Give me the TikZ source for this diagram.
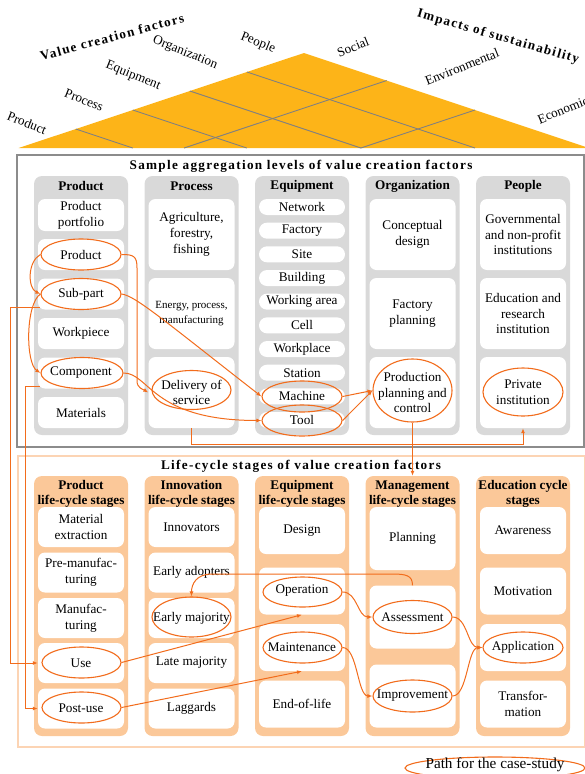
\documentclass[tikz,border=0pt]{standalone}
\usepackage{fontspec}
\setmainfont{Liberation Serif}
\usetikzlibrary{shapes.geometric,arrows.meta,calc}

\definecolor{roofyellow}{RGB}{253,180,24}
\definecolor{roofgray}{RGB}{128,128,128}
\definecolor{framegray}{RGB}{140,140,140}
\definecolor{colgray}{RGB}{217,217,217}
\definecolor{framepeach}{RGB}{252,212,180}
\definecolor{colpeach}{RGB}{251,200,153}
\definecolor{pathorange}{RGB}{242,108,28}

\newcommand{\spaced}[1]{{\addfontfeatures{LetterSpace=10}#1}}

\tikzset{
  txt/.style={font=\fontsize{13.2}{15.7}\selectfont, align=center, inner sep=0pt},
  head/.style={txt, font=\fontsize{13.2}{15.7}\selectfont\bfseries},
  small/.style={txt, font=\fontsize{11}{15.7}\selectfont},
  gcol/.style={fill=colgray, rounded corners=8pt, minimum width=94, minimum height=259, inner sep=0pt},
  ocol/.style={gcol, fill=colpeach, minimum height=260},
  wbox/.style={txt, fill=white, rounded corners=7pt, minimum width=86},
  pill/.style={wbox, rounded corners=8pt, minimum height=16},
  pathell/.style={ellipse, draw=pathorange, line width=1.1pt, minimum width=80, minimum height=31, inner sep=0pt},
  patharr/.style={draw=pathorange, line width=1pt, -{Latex[length=5pt,width=4pt]}},
  roofgrid/.style={draw=roofgray, line width=0.9pt}
}

\begin{document}
\begin{tikzpicture}[x=1pt,y=-1pt]
\useasboundingbox (0,0) rectangle (585,774);

% roof
\coordinate (rl) at (18.7,148);
\coordinate (ra) at (304,53);
\coordinate (rr) at (589,148);
\fill[roofyellow] (rl) -- (ra) -- (rr) -- cycle;
\foreach \t in {0.2,0.4,0.6,0.8}
  \draw[roofgrid] ($(rl)!\t!(ra)$) -- ($(rl)!\t!(rr)$);
\foreach \s in {0.4,0.71}
  \draw[roofgrid] ($(rr)!\s!(ra)$) -- ($(rr)!\s!(rl)$);

\node[head, rotate=15] (tvcf) at (112,37) {\spaced{Value creation factors}};
\node[head, rotate=-16] (tios) at (498,37) {\spaced{Impacts of sustainability}};
\node[txt, rotate=-22] (lprod) at (27,123) {Product};
\node[txt, rotate=-22] (lproc) at (84,100) {Process};
\node[txt, rotate=-22] (lequip) at (133,76) {Equipment};
\node[txt, rotate=-22] (lorg) at (185,53) {Organization};
\node[txt, rotate=-22] (lpeop) at (258,43) {People};
\node[txt, rotate=22] (lsoc) at (353,47) {Social};
\node[txt, rotate=22] (lenv) at (462,67) {Environmental};
\node[txt, rotate=22] (lecon) at (563,110) {Economic};

% aggregation levels
\draw[framegray, line width=1.2pt] (17,155) rectangle (584,447);
\node[head] (ttop) at (301,166) {\spaced{Sample aggregation levels of value creation factors}};

\foreach \cx/\nm in {81/cprod,191.5/cproc,302/cequip,412.5/corg,523/cpeop}
  \node[gcol] (\nm) at (\cx,305.5) {};
\node[head] (hprod) at (81,186) {Product};
\node[head] (hproc) at (191.5,186) {Process};
\node[head] (hequip) at (302,186) {Equipment};
\node[head] (horg) at (412.5,186) {Organization};
\node[head] (hpeop) at (523,186) {People};

\node[wbox, minimum height=32] (bport) at (81,215) {Product\\portfolio};
\node[wbox, minimum height=31] (bprod) at (81,254.5) {Product};
\node[wbox, minimum height=31] (bsub) at (81,294) {Sub-part};
\node[wbox, minimum height=31] (bwork) at (81,333.5) {Workpiece};
\node[wbox, minimum height=31] (bcomp) at (81,373) {Component};
\node[wbox, minimum height=31] (bmat) at (81,412.5) {Materials};

\node[wbox, minimum height=71] (bagri) at (191.5,234.5) {Agriculture,\\forestry,\\fishing};
\node[wbox, small, minimum height=71] (benergy) at (191.5,313.5) {Energy, process,\\manufacturing};
\node[wbox, minimum height=71] (bdel) at (191.5,392.5) {Delivery of\\service};

\foreach \lab [count=\i from 0] in {Network,Factory,Site,Building,Working area,Cell,Workplace,Station,Machine,Tool}
  \node[pill] (beq\i) at (302,{207+23.67*\i}) {\lab};

\node[wbox, minimum height=71] (bconc) at (412.5,234.5) {Conceptual\\design};
\node[wbox, minimum height=71] (bfplan) at (412.5,313.5) {Factory\\planning};
\node[wbox, minimum height=71] (bppc) at (412.5,392.5) {Production\\planning and\\control};

\node[wbox, minimum height=71] (bgov) at (523,234.5) {Governmental\\and non-profit\\institutions};
\node[wbox, minimum height=71] (bedu) at (523,313.5) {Education and\\research\\institution};
\node[wbox, minimum height=71] (bpriv) at (523,392.5) {Private\\institution};

\node[pathell] (eprod) at (81,254.5) {};
\node[pathell] (esub) at (81,294) {};
\node[pathell, minimum width=82] (ecomp) at (82,373) {};
\node[pathell, minimum width=79, minimum height=39] (edel) at (191.5,390) {};
\node[pathell] (emach) at (302,396.5) {};
\node[pathell] (etool) at (302,420.5) {};
\node[pathell, minimum width=79, minimum height=63] (eppc) at (412.5,390.5) {};
\node[pathell, minimum height=48] (epriv) at (523,392) {};

% life-cycle stages
\draw[framepeach, line width=1.2pt] (18,456) rectangle (585,747);
\node[head] (tbot) at (301,466) {\spaced{Life-cycle stages of value creation factors}};

\foreach \cx/\nm in {81/clprod,191.5/clinno,302/clequip,412.5/clmgmt,523/cledu}
  \node[ocol] (\nm) at (\cx,606) {};
\node[head] (hlprod) at (81,494) {Product\\life-cycle stages};
\node[head] (hlinno) at (191.5,494) {Innovation\\life-cycle stages};
\node[head] (hlequip) at (302,494) {Equipment\\life-cycle stages};
\node[head] (hlmgmt) at (412.5,494) {Management\\life-cycle stages};
\node[head] (hledu) at (523,494) {Education cycle\\stages};

\node[wbox, minimum height=40] (bmatx) at (81,527) {Material\\extraction};
\node[wbox, minimum height=40] (bpre) at (81,572.5) {Pre-manufac-\\turing};
\node[wbox, minimum height=40] (bmanu) at (81,618) {Manufac-\\turing};
\node[wbox, minimum height=40] (buse) at (81,663) {Use};
\node[wbox, minimum height=40] (bpost) at (81,708.5) {Post-use};

\node[wbox, minimum height=40] (binno) at (191.5,527) {Innovators};
\node[wbox, minimum height=40] (badop) at (191.5,572.5) {Early adopters};
\node[wbox, minimum height=40] (bemaj) at (191.5,618) {Early majority};
\node[wbox, minimum height=40] (blmaj) at (191.5,663) {Late majority};
\node[wbox, minimum height=40] (blag) at (191.5,708.5) {Laggards};

\node[wbox, minimum height=47] (bdes) at (302,530.5) {Design};
\node[wbox, minimum height=47] (bop) at (302,591) {Operation};
\node[wbox, minimum height=47] (bmaint) at (302,647.5) {Maintenance};
\node[wbox, minimum height=47] (beol) at (302,704) {End-of-life};

\node[wbox, minimum height=63] (bplan) at (412.5,538.5) {Planning};
\node[wbox, minimum height=63] (bass) at (412.5,617) {Assessment};
\node[wbox, minimum height=63] (bimp) at (412.5,696) {Improvement};

\node[wbox, minimum height=47] (baware) at (523,530.5) {Awareness};
\node[wbox, minimum height=47] (bmotiv) at (523,591) {Motivation};
\node[wbox, minimum height=47] (bappl) at (523,647.5) {Application};
\node[wbox, minimum height=47] (btrans) at (523,704) {Transfor-\\mation};

\node[pathell, minimum width=79] (euse) at (81.5,662.5) {};
\node[pathell, minimum width=79] (epost) at (81.5,707.5) {};
\node[pathell, minimum width=79, minimum height=40] (eemaj) at (191.5,617) {};
\node[pathell, minimum width=79, minimum height=30] (eop) at (302.5,592) {};
\node[pathell, minimum width=79] (emaint) at (302.5,647.5) {};
\node[pathell, minimum width=79, minimum height=33] (eass) at (412.5,617) {};
\node[pathell, minimum width=79, minimum height=32] (eimp) at (412.5,696) {};
\node[pathell] (eappl) at (523,647.5) {};

% case-study path
\draw[patharr] (eprod.west) .. controls +(-13,7) and +(-13,-6) .. (esub.west);
\draw[patharr] (esub.west) .. controls +(-15,10) and +(-15,-10) .. (ecomp.west);
\draw[patharr] (eprod.east) .. controls +(12,0) and +(0,-12) .. (137,268) -- (137,381)
  .. controls +(0,7) and +(-5,-3) .. (bdel.west);
\draw[patharr] (ecomp.east) .. controls +(26,0) and +(-110,0) .. (etool.west);
\draw[patharr] (esub.east) .. controls +(14,2) and +(-100,-78) .. (emach.west);
\draw[patharr] (emach.east) -- (eppc.west);
\draw[patharr] (etool.east) -- (eppc.west);
\draw[patharr] (bdel.south) -- ++(0,16) -| (bpriv.south);
\draw[patharr] (eppc.south) -- (clmgmt.north);
\draw[patharr] ($(bsub.south west)+(2,-2)$) -- ++(-29,0) |- (buse.west);
\draw[patharr] ($(bcomp.south west)+(2,-2)$) -- ++(-14,0) |- (bpost.west);

\draw[patharr] (euse.east) -- (bop.south);
\draw[patharr] (epost.east) -- (bmaint.south);
\draw[patharr] (eop.east) .. controls +(15,0) and +(-15,0) .. (eass.west);
\draw[patharr] (emaint.east) .. controls +(15,0) and +(-15,0) .. (eimp.west);
\draw[patharr] (eass.east) .. controls +(15,0) and +(-15,0) .. (eappl.west);
\draw[patharr] (eimp.east) .. controls +(15,0) and +(-15,0) .. (eappl.west);
\draw[patharr] (bass.north) .. controls +(0,-10) and +(14,0) .. (392,574) -- (212,574)
  .. controls +(-16,0) and +(0,-12) .. (eemaj.north);

% legend
\node[pathell, minimum width=180, minimum height=22] (elegend) at (495,768) {};
\node[txt, font=\fontsize{15.2}{18}\selectfont] (tlegend) at (495,765) {Path for the case-study};
\end{tikzpicture}
\end{document}
